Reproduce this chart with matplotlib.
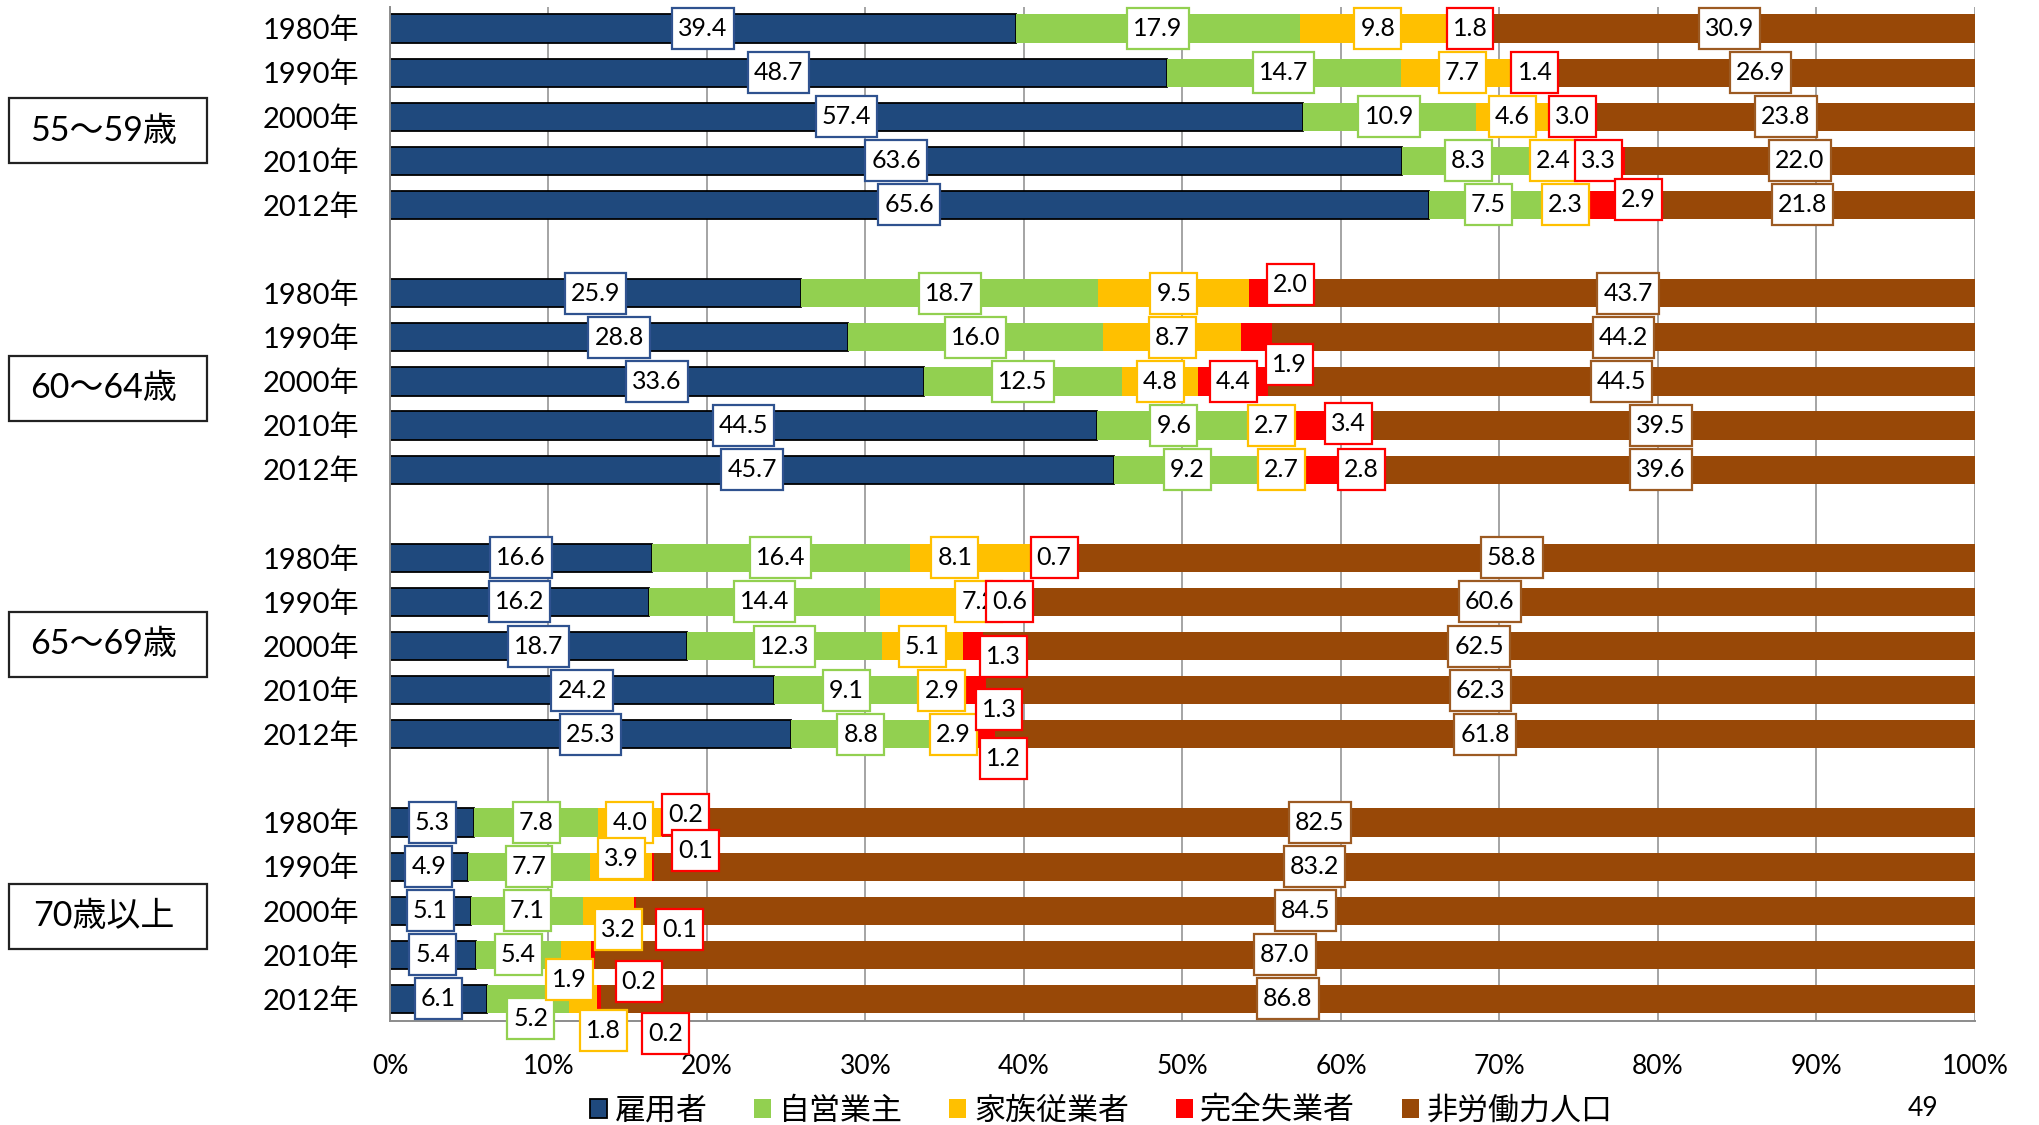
import matplotlib
matplotlib.use('Agg')
import matplotlib.pyplot as plt
from matplotlib.patches import Rectangle
from matplotlib.path import Path
import matplotlib.transforms as mtransforms
import numpy as np

plt.rcParams['font.family'] = ['Lato', 'Noto Sans CJK JP', 'DejaVu Sans']

# ---------------- data ----------------
age_groups = ['55〜59歳', '60〜64歳', '65〜69歳', '70歳以上']
years = ['1980年', '1990年', '2000年', '2010年', '2012年']
series_names = ['雇用者', '自営業主', '家族従業者', '完全失業者', '非労働力人口']

employee = [[39.4, 48.7, 57.4, 63.6, 65.6],
            [25.9, 28.8, 33.6, 44.5, 45.7],
            [16.6, 16.2, 18.7, 24.2, 25.3],
            [5.3, 4.9, 5.1, 5.4, 6.1]]
self_employed = [[17.9, 14.7, 10.9, 8.3, 7.5],
                 [18.7, 16.0, 12.5, 9.6, 9.2],
                 [16.4, 14.4, 12.3, 9.1, 8.8],
                 [7.8, 7.7, 7.1, 5.4, 5.2]]
family_worker = [[9.8, 7.7, 4.6, 2.4, 2.3],
                 [9.5, 8.7, 4.8, 2.7, 2.7],
                 [8.1, 7.2, 5.1, 2.9, 2.9],
                 [4.0, 3.9, 3.2, 1.9, 1.8]]
unemployed = [[1.8, 1.4, 3.0, 3.3, 2.9],
              [2.0, 1.9, 4.4, 3.4, 2.8],
              [0.7, 0.6, 1.3, 1.3, 1.2],
              [0.2, 0.1, 0.1, 0.2, 0.2]]
not_in_labor_force = [[30.9, 26.9, 23.8, 22.0, 21.8],
                      [43.7, 44.2, 44.5, 39.5, 39.6],
                      [58.8, 60.6, 62.5, 62.3, 61.8],
                      [82.5, 83.2, 84.5, 87.0, 86.8]]

# ---------------- style ----------------
bar_colors = ['#1F497D', '#92D050', '#FFC000', '#FF0000', '#984807']
label_edge = ['#2F528F', '#92D050', '#FFC000', '#FF0000', '#9C5A22']
x_ticks = [0, 10, 20, 30, 40, 50, 60, 70, 80, 90, 100]

# label offsets (dx in %, dy in row units) for labels moved off their segment
label_offsets = {
    (0, 4, 3): (2.0, -0.12),
    (1, 0, 3): (1.6, -0.19), (1, 1, 3): (2.1, 0.61), (1, 3, 3): (1.8, -0.05),
    (1, 4, 3): (2.3, 0.0),
    (2, 0, 2): (-1.2, 0.0), (2, 0, 3): (0.7, 0.0), (2, 1, 2): (2.6, 0.0),
    (2, 1, 3): (0.6, 0.0), (2, 2, 3): (1.9, 0.235), (2, 3, 3): (1.5, 0.44),
    (2, 4, 3): (1.1, 0.54),
    (3, 0, 3): (1.4, -0.19), (3, 1, 2): (0.0, -0.18), (3, 1, 3): (2.7, -0.36),
    (3, 2, 2): (0.6, 0.43), (3, 2, 3): (2.8, 0.42), (3, 3, 2): (-0.46, 0.56),
    (3, 3, 3): (2.9, 0.61), (3, 4, 1): (0.2, 0.45), (3, 4, 2): (1.3, 0.71),
    (3, 4, 3): (4.2, 0.78),
}
group_box_dy = [0.32, 0.16, -0.04, 0.13]


class PadBox:
    """Rectangular box with separate horizontal / vertical padding."""
    def __init__(self, px, py):
        self.px, self.py = px, py

    def __call__(self, x0, y0, width, height, mutation_size):
        px = self.px * mutation_size
        py = self.py * mutation_size
        xa, ya = x0 - px, y0 - py
        xb, yb = x0 + width + px, y0 + height + py
        return Path([(xa, ya), (xb, ya), (xb, yb), (xa, yb), (xa, ya)], closed=True)


W, H = 2040, 1125
fig = plt.figure(figsize=(W / 100, H / 100), dpi=100)
ax = fig.add_axes([390 / W, 1 - 1021 / H, (1975 - 390) / W, (1021 - 6.5) / H])

all_series = [employee, self_employed, family_worker, unemployed, not_in_labor_force]
vals = np.array(all_series, dtype=float)  # (series, group, year)
n_s, n_g, n_y = vals.shape
totals = vals.sum(axis=0)
pct = vals / totals * 100.0
cum = np.cumsum(pct, axis=0) - pct

slots = np.array([[g * (n_y + 1) + i for i in range(n_y)] for g in range(n_g)], dtype=float)

handles = []
for s in range(n_s):
    ec = 'black' if s == 0 else 'none'
    lw = 1.3 if s == 0 else 0
    bc = ax.barh(slots.ravel(), pct[s].ravel(), left=cum[s].ravel(), height=0.64,
                 color=bar_colors[s], edgecolor=ec, linewidth=lw, zorder=2,
                 label=series_names[s])
    handles.append(bc)

# data labels
for s in range(n_s):
    for g in range(n_g):
        for i in range(n_y):
            dx, dy = label_offsets.get((g, i, s), (0.0, 0.0))
            x = cum[s, g, i] + pct[s, g, i] / 2 + dx
            y = slots[g, i] + dy
            ax.text(x, y, f'{vals[s, g, i]:.1f}', ha='center', va='center',
                    fontsize=18, zorder=5 + s, color='black',
                    bbox=dict(boxstyle=PadBox(0.24, 0.36), fc='white',
                              ec=label_edge[s], lw=1.6))

ax.set_xlim(0, 100)
ax.set_ylim(slots.max() + 0.5, -0.5)
ax.set_xticks(x_ticks)
ax.set_xticklabels([f'{v}%' for v in x_ticks])
ax.set_yticks(slots.ravel())
ax.set_yticklabels(years * n_g)
ax.tick_params(axis='y', length=0, pad=22, labelsize=21)
ax.tick_params(axis='x', length=0, pad=24, labelsize=19)
ax.set_axisbelow(True)
ax.xaxis.grid(True, color='#8C8C8C', lw=1.1)
for sp in ['top', 'right']:
    ax.spines[sp].set_visible(False)
for sp in ['left', 'bottom']:
    ax.spines[sp].set_color('#8C8C8C')
    ax.spines[sp].set_linewidth(1.4)

# age-group boxes
trans = mtransforms.blended_transform_factory(fig.transFigure, ax.transData)
box_h = 65 / 44.1
for g in range(n_g):
    yc = slots[g, 2] + group_box_dy[g]
    r = Rectangle((9 / W, yc - box_h / 2), (206.7 - 9) / W, box_h, transform=trans,
                  fc='white', ec='#222222', lw=1.6, clip_on=False, zorder=3)
    ax.add_artist(r)
    ax.text(104 / W, yc, age_groups[g], transform=trans, ha='center', va='center',
            fontsize=24.5, clip_on=False, zorder=4)

fig.legend(handles, series_names, loc='center', bbox_to_anchor=(0.5398, 1 - 1110 / H),
           ncol=5, frameon=False, fontsize=22.3, handlelength=0.55, handleheight=0.55,
           handletextpad=0.25, columnspacing=1.5)

fig.text(1923 / W, 1 - 1108 / H, '49', ha='center', va='center', fontsize=19)

fig.savefig('out.png', dpi=100)
